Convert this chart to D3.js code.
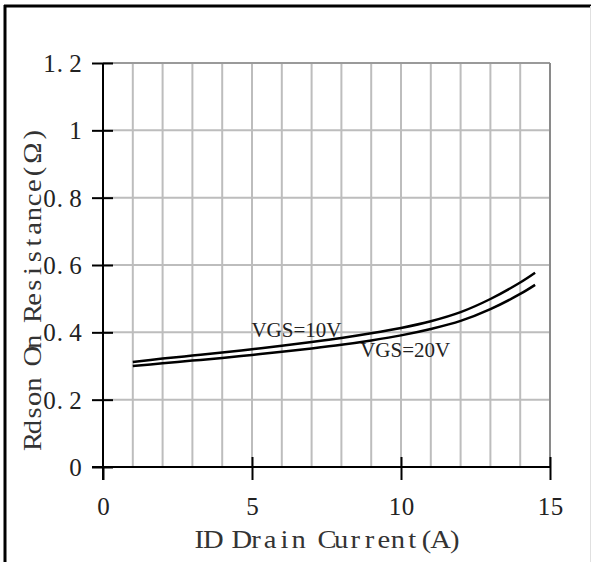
<!DOCTYPE html>
<html>
<head>
<meta charset="utf-8">
<script src="https://cdn.jsdelivr.net/npm/d3@7"></script>
<style>
  html, body { margin: 0; padding: 0; background: #fff; }
  svg { display: block; }
</style>
</head>
<body>
<div id="chart"></div>
<script>
// ---- data ----
const currents = [1, 2, 3, 4, 5, 6, 7, 8, 9, 10, 11, 12, 13, 14, 14.5];
const vgs10 = [0.312, 0.322, 0.331, 0.340, 0.350, 0.360, 0.371, 0.383, 0.397, 0.413, 0.433, 0.460, 0.499, 0.548, 0.577];
const vgs20 = [0.300, 0.308, 0.316, 0.324, 0.333, 0.342, 0.352, 0.363, 0.376, 0.391, 0.410, 0.434, 0.469, 0.514, 0.541];
const xTicks = [0, 5, 10, 15];
const xTickLabels = ["0", "5", "10", "15"];
const yTicks = [0, 0.2, 0.4, 0.6, 0.8, 1.0, 1.2];
const yTickLabels = ["0", "0.2", "0.4", "0.6", "0.8", "1", "1.2"];
const xGrid = [1, 2, 3, 4, 5, 6, 7, 8, 9, 10, 11, 12, 13, 14];
const seriesLabels = ["VGS=10V", "VGS=20V"];
const labelPos = [[4.98, 0.387], [8.63, 0.327]];
const xTitle = "ID Drain Current(A)";
const yTitle = "Rdson On Resistance(Ω)";

// ---- setup ----
const W = 592, H = 562;
const svg = d3.select("#chart").append("svg").attr("width", W).attr("height", H);
svg.append("rect").attr("width", W).attr("height", H).attr("fill", "#fff");

const x = d3.scaleLinear().domain([0, 15]).range([103, 550]);
const y = d3.scaleLinear().domain([0, 1.2]).range([467, 63]);

const SERIF = "'Liberation Serif', 'DejaVu Serif', serif";

// serif glyphs laid out in fixed-width cells (like the original's half-width text)
function cellUnits(ch) { return ch === "Ω" ? 1.6 : 1; }
function cellCenters(str, cell, start) {
  const xs = [];
  let pos = start;
  for (const ch of str) {
    const w = cellUnits(ch) * cell;
    xs.push(ch === "." ? pos + cell * 0.3 : pos + w / 2);
    pos += w;
  }
  return xs;
}
function cellWidth(str, cell) {
  let n = 0;
  for (const ch of str) n += cellUnits(ch);
  return n * cell;
}

// frame
svg.append("line").attr("x1", 4).attr("x2", 591).attr("y1", 6).attr("y2", 6)
  .attr("stroke", "#000").attr("stroke-width", 3);
svg.append("line").attr("x1", 5).attr("x2", 5).attr("y1", 5).attr("y2", H)
  .attr("stroke", "#000").attr("stroke-width", 3);
svg.append("line").attr("x1", 590.5).attr("x2", 590.5).attr("y1", 6).attr("y2", H)
  .attr("stroke", "#e0e0e0").attr("stroke-width", 1);

// grid
const grid = svg.append("g");
grid.selectAll("line.v").data(xGrid).join("line")
  .attr("x1", d => x(d)).attr("x2", d => x(d))
  .attr("y1", y(1.2)).attr("y2", y(0))
  .attr("stroke", "#bdbdbd").attr("stroke-width", 2);
grid.selectAll("line.h").data(yTicks.filter(d => d > 0)).join("line")
  .attr("x1", x(0)).attr("x2", x(15))
  .attr("y1", d => y(d)).attr("y2", d => y(d))
  .attr("stroke", d => d === 1.2 ? "#9a9a9a" : "#bdbdbd").attr("stroke-width", 2);
grid.append("line").attr("x1", x(15)).attr("x2", x(15)).attr("y1", y(1.2)).attr("y2", y(0))
  .attr("stroke", "#8a8a8a").attr("stroke-width", 2);

// y axis
const TICK_CELL = 13;
const gY = svg.append("g").attr("transform", `translate(${x(0)},0)`)
  .call(d3.axisLeft(y).tickValues(yTicks).tickFormat((d, i) => yTickLabels[i]).tickSize(11).tickPadding(10));
gY.select(".domain").remove();
gY.selectAll(".tick line").attr("x1", 10).attr("x2", -11).attr("stroke", "#000").attr("stroke-width", 2);
gY.selectAll(".tick text").each(function (d, i) {
  const s = yTickLabels[i];
  const xs = cellCenters(s, TICK_CELL, -21 - cellWidth(s, TICK_CELL));
  d3.select(this)
    .attr("x", xs.join(" ")).attr("dy", "0.34em")
    .attr("text-anchor", "middle")
    .attr("font-family", SERIF).attr("font-size", 25).attr("fill", "#222");
});
svg.append("line").attr("x1", x(0)).attr("x2", x(0)).attr("y1", y(1.2)).attr("y2", y(0) + 13)
  .attr("stroke", "#000").attr("stroke-width", 2);

// x axis
const gX = svg.append("g").attr("transform", `translate(0,${y(0)})`)
  .call(d3.axisBottom(x).tickValues(xTicks).tickFormat((d, i) => xTickLabels[i]).tickSize(13));
gX.select(".domain").remove();
gX.selectAll(".tick line").attr("y1", d => d === 0 ? 0 : -10).attr("y2", 13).attr("stroke", "#000").attr("stroke-width", 2);
gX.selectAll(".tick text").each(function (d, i) {
  const s = xTickLabels[i];
  const xs = cellCenters(s, TICK_CELL, -cellWidth(s, TICK_CELL) / 2);
  d3.select(this)
    .attr("x", xs.join(" ")).attr("y", 48).attr("dy", 0)
    .attr("text-anchor", "middle")
    .attr("font-family", SERIF).attr("font-size", 25).attr("fill", "#222");
});
svg.append("line").attr("x1", x(0) - 11).attr("x2", x(15)).attr("y1", y(0)).attr("y2", y(0))
  .attr("stroke", "#000").attr("stroke-width", 2);

// curves
const line = d3.line().x(d => x(d[0])).y(d => y(d[1])).curve(d3.curveCatmullRom.alpha(0.5));
[vgs10, vgs20].forEach(vals => {
  svg.append("path").datum(currents.map((c, i) => [c, vals[i]]))
    .attr("d", line).attr("fill", "none").attr("stroke", "#000").attr("stroke-width", 2.5);
});

// series labels
seriesLabels.forEach((t, i) => {
  svg.append("text").attr("x", x(labelPos[i][0])).attr("y", y(labelPos[i][1]))
    .attr("font-family", SERIF).attr("font-size", 21).attr("fill", "#222").text(t);
});

// titles (cells computed in unscaled space, glyphs widened)
const TITLE_CELL = 14.2, SX = 1.3, SY = 1.12;
{
  const cx = (x(0) + x(15)) / 2 + 0.5;
  const xs = cellCenters(xTitle, TITLE_CELL / SX, -cellWidth(xTitle, TITLE_CELL / SX) / 2);
  svg.append("text")
    .attr("transform", `translate(${cx},548) scale(${SX},${SY})`)
    .attr("x", xs.join(" ")).attr("y", 0)
    .attr("text-anchor", "middle").attr("font-family", SERIF).attr("font-size", 22).attr("fill", "#333")
    .text(xTitle);
}
{
  const xs = cellCenters(yTitle, TITLE_CELL / SX, -cellWidth(yTitle, TITLE_CELL / SX) / 2);
  svg.append("text")
    .attr("transform", `translate(41,288) rotate(-90) scale(${SX},${SY})`)
    .attr("x", xs.join(" ")).attr("y", 0)
    .attr("text-anchor", "middle").attr("font-family", SERIF).attr("font-size", 22).attr("fill", "#333")
    .text(yTitle);
}
</script>
</body>
</html>
